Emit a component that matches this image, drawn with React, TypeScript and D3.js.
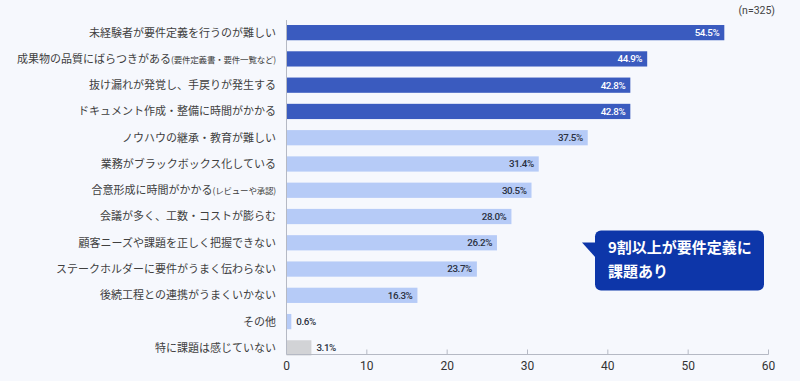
import React from "react";
import * as d3 from "d3";

const categories = [
  "未経験者が要件定義を行うのが難しい",
  "成果物の品質にばらつきがある",
  "抜け漏れが発覚し、手戻りが発生する",
  "ドキュメント作成・整備に時間がかかる",
  "ノウハウの継承・教育が難しい",
  "業務がブラックボックス化している",
  "合意形成に時間がかかる",
  "会議が多く、工数・コストが膨らむ",
  "顧客ニーズや課題を正しく把握できない",
  "ステークホルダーに要件がうまく伝わらない",
  "後続工程との連携がうまくいかない",
  "その他",
  "特に課題は感じていない",
];
const categoryNotes = ["", "(要件定義書・要件一覧など)", "", "", "", "", "(レビューや承認)", "", "", "", "", "", ""];
const values = [54.5, 44.9, 42.8, 42.8, 37.5, 31.4, 30.5, 28.0, 26.2, 23.7, 16.3, 0.6, 3.1];
const groups = ["top", "top", "top", "top", "mid", "mid", "mid", "mid", "mid", "mid", "mid", "mid", "none"];
const xTicks = [0, 10, 20, 30, 40, 50, 60];
const sampleNote = "(n=325)";
const calloutLines = ["9割以上が要件定義に", "課題あり"];

const W = 800;
const H = 381;
const BG = "#f6f8fd";
const colorMap: Record<string, string> = { top: "#3a5bbf", mid: "#b6cbf7", none: "#d2d3d6" };
const FONT = "'Noto Sans CJK JP', 'Noto Sans', sans-serif";
const NUMFONT = "'Roboto', 'Noto Sans', sans-serif";

export default function App() {
  const x = d3.scaleLinear().domain([0, 60]).range([286.5, 768.5]);
  const y = d3
    .scaleBand<number>()
    .domain(d3.range(categories.length))
    .range([19.5, 361])
    .paddingInner(0.42)
    .paddingOuter(0.21);
  const bh = y.bandwidth();
  const axisY = 354.5;
  const x0 = x(0);

  return (
    <div style={{ position: "fixed", left: 0, top: 0, width: W, height: H, background: BG }}>
      <svg width={W} height={H} style={{ display: "block" }}>
        <rect x={0} y={0} width={W} height={H} fill={BG} />
        <text x={775} y={14} textAnchor="end" fontSize={10.5} fill="#444" fontFamily={NUMFONT}>
          {sampleNote}
        </text>
        {values.map((v, i) => {
          const yy = y(i)!;
          const cy = yy + bh / 2;
          const xe = x(v);
          const inside = v > 10;
          const labelColor = groups[i] === "top" ? "#ffffff" : "#2a3040";
          return (
            <g key={i}>
              <rect x={x0} y={yy} width={xe - x0} height={bh} fill={colorMap[groups[i]]} />
              <text
                x={inside ? xe - 5 : xe + 5}
                y={cy}
                dy="0.35em"
                textAnchor={inside ? "end" : "start"}
                fontSize={9.8}
                fontWeight={500}
                fill={labelColor}
                fontFamily={NUMFONT}
                letterSpacing={-0.4}
              >
                {v.toFixed(1) + "%"}
              </text>
              <text
                x={276}
                y={cy}
                dy="0.36em"
                textAnchor="end"
                fontSize={11}
                fill="#404040"
                fontFamily={FONT}
              >
                {categories[i]}
                {categoryNotes[i] && (
                  <tspan fontSize={8.5} letterSpacing={-0.2}>{categoryNotes[i]}</tspan>
                )}
              </text>
            </g>
          );
        })}
        <line x1={x0} x2={x0} y1={20} y2={axisY} stroke="#b5b9c4" strokeWidth={1} />
        <line x1={x0} x2={x(60)} y1={axisY} y2={axisY} stroke="#b5b9c4" strokeWidth={1} />
        {xTicks.map((t) => (
          <g key={t}>
            {t > 0 && (
              <line x1={x(t)} x2={x(t)} y1={axisY - 5} y2={axisY} stroke="#b5b9c4" strokeWidth={1} />
            )}
            <text x={x(t)} y={366} dy="0.35em" textAnchor="middle" fontSize={12} fill="#333" fontFamily={NUMFONT}>
              {t}
            </text>
          </g>
        ))}
        <path
          d="M 596 242.5 L 582 242.5 L 596 258 Z"
          fill="#0d36a9"
        />
        <rect x={595} y={230.5} width={169} height={60} rx={6} fill="#0d36a9" />
        {calloutLines.map((l, i) => (
          <text
            key={i}
            x={608}
            y={248 + i * 24}
            dy="0.35em"
            fontSize={15}
            fontWeight={700}
            fill="#ffffff"
            fontFamily={FONT}
          >
            {l}
          </text>
        ))}
      </svg>
    </div>
  );
}
